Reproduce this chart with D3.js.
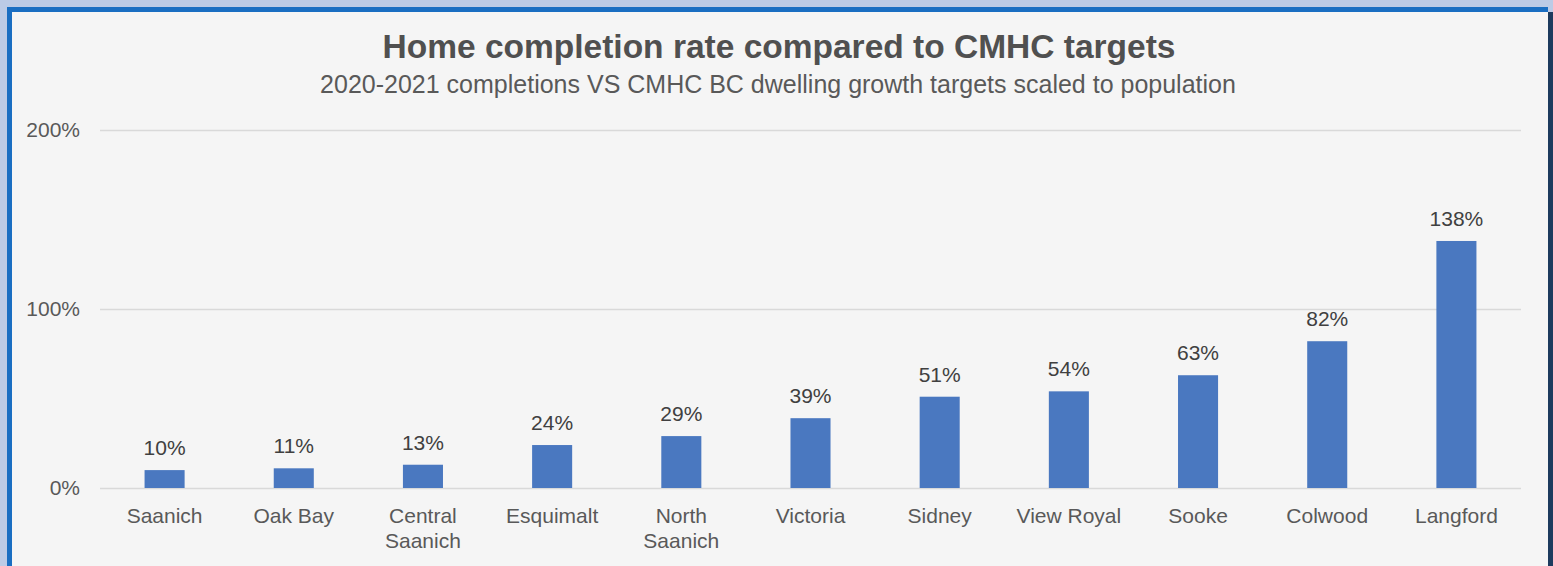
<!DOCTYPE html>
<html>
<head>
<meta charset="utf-8">
<script src="https://cdn.jsdelivr.net/npm/d3@7"></script>
<style>
  html, body { margin: 0; padding: 0; background: #bccbe6; }
  svg { display: block; }
  text { font-family: "Liberation Sans", Arial, sans-serif; }
</style>
</head>
<body>
<svg id="chart" width="1553" height="566"></svg>
<script>
const categories = [["Saanich"], ["Oak Bay"], ["Central", "Saanich"], ["Esquimalt"], ["North", "Saanich"], ["Victoria"], ["Sidney"], ["View Royal"], ["Sooke"], ["Colwood"], ["Langford"]];
const values = [10, 11, 13, 24, 29, 39, 51, 54, 63, 82, 138];
const yTicks = [0, 100, 200];
const titleText = "Home completion rate compared to CMHC targets";
const subtitleText = "2020-2021 completions VS CMHC BC dwelling growth targets scaled to population";

const W = 1553, H = 566;
const svg = d3.select("#chart");

// frame
svg.append("rect").attr("x", 0).attr("y", 0).attr("width", W).attr("height", H).attr("fill", "#bccbe6");
svg.append("rect").attr("x", 7).attr("y", 7).attr("width", 1541).attr("height", H).attr("fill", "#1a6ec2");
svg.append("rect").attr("x", 12).attr("y", 12).attr("width", 1536).attr("height", H).attr("fill", "#f5f5f5");
svg.append("rect").attr("x", 1548).attr("y", 12).attr("width", 5).attr("height", H).attr("fill", "#1d3b5e");

const plot = { left: 100, right: 1521, top: 130, bottom: 488 };

const x = d3.scaleBand()
  .domain(categories.map((d, i) => i))
  .range([plot.left, plot.right])
  .paddingInner(0.69)
  .paddingOuter(0.345);

const y = d3.scaleLinear().domain([0, 200]).range([plot.bottom, plot.top]);

// gridlines
const yAxis = d3.axisLeft(y).tickValues(yTicks).tickFormat(d => d + "%")
  .tickSize(-(plot.right - plot.left)).tickPadding(20);
const gy = svg.append("g").attr("transform", `translate(${plot.left},0)`).call(yAxis);
gy.select(".domain").remove();
gy.selectAll(".tick line").attr("stroke", "#d9d9d9").attr("stroke-width", 1.5);
gy.selectAll(".tick text").attr("fill", "#595959").attr("font-size", 21)
  .attr("font-family", "'Liberation Sans', Arial, sans-serif");

// bars
svg.append("g").selectAll("rect").data(values).join("rect")
  .attr("x", (d, i) => x(i))
  .attr("width", x.bandwidth())
  .attr("y", d => y(d))
  .attr("height", d => y(0) - y(d))
  .attr("fill", "#4a78c0");

// value labels
svg.append("g").selectAll("text").data(values).join("text")
  .attr("x", (d, i) => x(i) + x.bandwidth() / 2)
  .attr("y", d => y(d) - 15)
  .attr("text-anchor", "middle")
  .attr("font-size", 21)
  .attr("fill", "#404040")
  .text(d => d + "%");

// category labels
const cl = svg.append("g").selectAll("text").data(categories).join("text")
  .attr("x", (d, i) => x(i) + x.bandwidth() / 2)
  .attr("y", 523)
  .attr("text-anchor", "middle")
  .attr("font-size", 21)
  .attr("fill", "#595959");
cl.each(function(d, i) {
  const t = d3.select(this);
  d.forEach((line, k) => {
    t.append("tspan").attr("x", x(i) + x.bandwidth() / 2).attr("dy", k === 0 ? 0 : 25).text(line);
  });
});

// titles
svg.append("text").attr("x", 779).attr("y", 58).attr("text-anchor", "middle")
  .attr("font-size", 33.5).attr("font-weight", "bold").attr("fill", "#505050").text(titleText);
svg.append("text").attr("x", 778).attr("y", 93).attr("text-anchor", "middle")
  .attr("font-size", 25).attr("fill", "#595959").text(subtitleText);
</script>
</body>
</html>
